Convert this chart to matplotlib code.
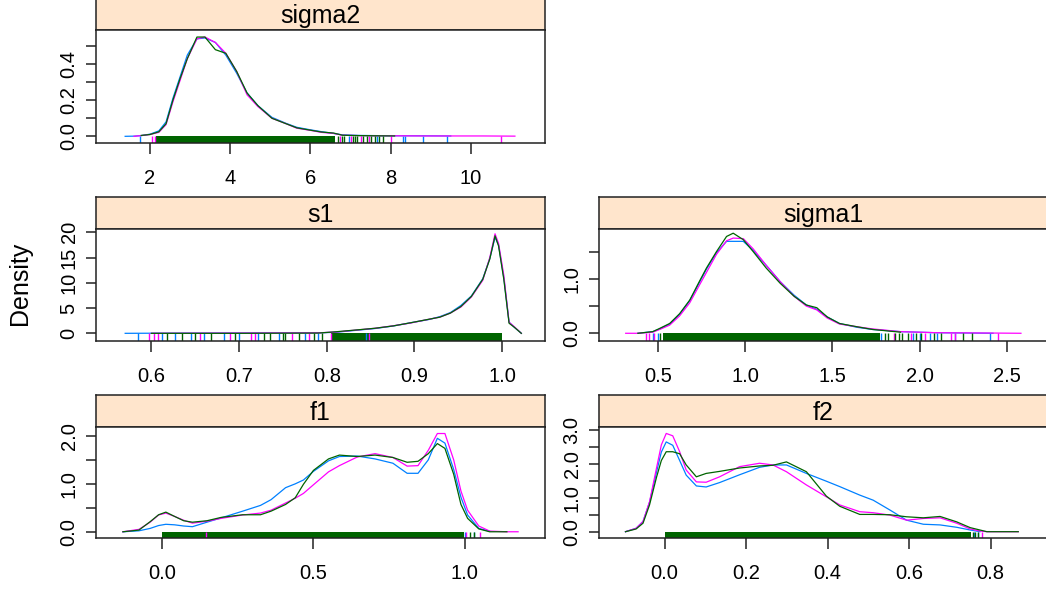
import numpy as np
import matplotlib
matplotlib.use("Agg")
import matplotlib.pyplot as plt

plt.rcParams['font.family'] = ['Liberation Sans', 'DejaVu Sans']

nan = np.nan
BLUE = "#0080ff"
MAGENTA = "#ff00ff"
GREEN = "#006400"
STRIP = "#ffe5cc"

# ---- density curves (three chains per parameter) ----
sigma2_x = [1.38, 1.6, 1.78, 2.0, 2.22, 2.4, 2.57, 2.75, 2.93, 3.17, 3.37, 3.63, 3.89, 4.16,
            4.42, 4.69, 5.04, 5.39, 5.66, 6.0, 6.27, 6.58, 6.8, 7.2, 7.6, 8.1, 8.8, 9.5, 10.3, 11.1]
sigma2_blue = [0.0, 0.001, 0.004, 0.012, 0.03, 0.08, 0.21, 0.33, 0.45, 0.54, 0.545, 0.52, 0.45, 0.35,
               0.24, 0.17, 0.105, 0.072, 0.05, 0.036, 0.026, 0.016, 0.008, 0.005, 0.004, 0.003, 0.003, 0.002, nan, nan]
sigma2_magenta = [nan, 0.0, 0.004, 0.01, 0.022, 0.065, 0.19, 0.31, 0.43, 0.54, 0.55, 0.52, 0.46, 0.36,
                  0.23, 0.165, 0.10, 0.07, 0.045, 0.033, 0.022, 0.016, 0.006, 0.004, 0.003, 0.003, 0.002, 0.002, 0.002, 0.001]
sigma2_green = [nan, nan, 0.005, 0.01, 0.025, 0.07, 0.2, 0.32, 0.43, 0.55, 0.55, 0.48, 0.46, 0.36,
                0.24, 0.17, 0.10, 0.07, 0.047, 0.034, 0.024, 0.018, 0.006, 0.004, 0.003, 0.002, nan, nan, nan, nan]

s1_x = [0.57, 0.6, 0.7, 0.79, 0.81, 0.834, 0.855, 0.876, 0.896, 0.917, 0.929, 0.941, 0.953,
        0.965, 0.978, 0.986, 0.992, 0.996, 1.002, 1.008, 1.014, 1.022]
s1_blue = [0.0, 0.02, 0.05, 0.1, 0.2, 0.6, 0.95, 1.45, 2.1, 2.75, 3.3, 4.1, 5.5,
           7.4, 10.8, 14.8, 19.0, 17.5, 11.0, 2.2, 1.2, 0.0]
s1_magenta = [nan, 0.0, 0.05, 0.1, 0.25, 0.65, 1.0, 1.5, 2.05, 2.8, 3.2, 4.0, 5.2,
              7.2, 10.5, 15.0, 19.7, 17.8, 11.5, 2.2, 1.3, 0.0]
s1_green = [nan, 0.0, 0.0, 0.05, 0.3, 0.67, 1.0, 1.47, 2.1, 2.8, 3.2, 4.0, 5.3,
            7.3, 10.7, 14.7, 19.3, 17.3, 10.7, 2.0, 1.2, 0.0]

sigma1_x = [0.315, 0.385, 0.47, 0.51, 0.567, 0.624, 0.682, 0.74, 0.778, 0.835, 0.893, 0.931, 0.989,
            1.046, 1.12, 1.2, 1.28, 1.35, 1.41, 1.47, 1.54, 1.64, 1.73, 1.89, 2.1, 2.42, 2.58]
sigma1_blue = [nan, 0.0, 0.03, 0.08, 0.17, 0.35, 0.6, 0.95, 1.18, 1.48, 1.69, 1.69, 1.69,
               1.52, 1.25, 0.95, 0.70, 0.52, 0.44, 0.3, 0.18, 0.11, 0.07, 0.03, 0.01, 0.0, nan]
sigma1_magenta = [0.0, 0.0, 0.02, 0.07, 0.15, 0.32, 0.56, 0.9, 1.12, 1.45, 1.7, 1.75, 1.74,
                  1.55, 1.25, 0.95, 0.68, 0.5, 0.43, 0.28, 0.17, 0.12, 0.08, 0.03, 0.01, 0.004, 0.0]
sigma1_green = [nan, 0.0, 0.03, 0.09, 0.18, 0.36, 0.61, 0.97, 1.2, 1.5, 1.78, 1.84, 1.72,
                1.5, 1.2, 0.92, 0.68, 0.52, 0.47, 0.3, 0.18, 0.12, 0.07, 0.02, nan, nan, nan]

f1_x = [-0.13, -0.077, -0.04, -0.012, 0.012, 0.041, 0.071, 0.1, 0.148, 0.195, 0.266, 0.325, 0.36,
        0.408, 0.44, 0.467, 0.5, 0.55, 0.586, 0.645, 0.704, 0.763, 0.81, 0.846, 0.88, 0.91, 0.935,
        0.964, 0.988, 1.01, 1.047, 1.083, 1.14, 1.177]
f1_blue = [0.0, 0.02, 0.07, 0.13, 0.156, 0.145, 0.12, 0.106, 0.2, 0.29, 0.43, 0.55, 0.67,
           0.92, 1.0, 1.08, 1.26, 1.48, 1.57, 1.58, 1.52, 1.43, 1.22, 1.22, 1.5, 1.95, 1.85,
           1.3, 0.72, 0.35, 0.07, 0.01, nan, nan]
f1_magenta = [0.0, 0.05, 0.2, 0.35, 0.39, 0.32, 0.24, 0.18, 0.22, 0.28, 0.35, 0.39, 0.45,
              0.6, 0.7, 0.8, 0.98, 1.25, 1.38, 1.56, 1.63, 1.55, 1.37, 1.38, 1.7, 2.05, 2.05,
              1.5, 0.85, 0.45, 0.12, 0.014, 0.0, 0.0]
f1_green = [0.0, 0.035, 0.21, 0.355, 0.41, 0.32, 0.23, 0.2, 0.23, 0.3, 0.355, 0.355, 0.43,
            0.57, 0.71, 0.99, 1.28, 1.52, 1.6, 1.57, 1.6, 1.55, 1.45, 1.47, 1.63, 1.84, 1.74,
            1.2, 0.57, 0.28, 0.06, 0.0, 0.0, nan]

f2_x = [-0.096, -0.07, -0.053, -0.037, -0.02, -0.008, 0.004, 0.02, 0.037, 0.053, 0.078, 0.102,
        0.135, 0.184, 0.233, 0.266, 0.299, 0.348, 0.397, 0.43, 0.479, 0.512, 0.553, 0.594,
        0.635, 0.676, 0.717, 0.75, 0.774, 0.791, 0.868]
f2_blue = [0.0, 0.1, 0.3, 0.87, 1.75, 2.35, 2.65, 2.55, 2.1, 1.67, 1.35, 1.32,
           1.45, 1.68, 1.9, 1.97, 1.97, 1.72, 1.49, 1.33, 1.08, 0.93, 0.64, 0.34,
           0.22, 0.2, 0.13, 0.05, 0.0, nan, nan]
f2_magenta = [0.0, 0.1, 0.3, 0.88, 1.87, 2.56, 2.9, 2.83, 2.36, 1.82, 1.47, 1.46,
              1.62, 1.92, 2.02, 1.97, 1.77, 1.38, 1.03, 0.79, 0.59, 0.56, 0.49, 0.34,
              0.39, 0.41, 0.25, 0.08, 0.02, 0.0, 0.0]
f2_green = [0.0, 0.08, 0.25, 0.79, 1.6, 2.1, 2.36, 2.36, 2.3, 1.97, 1.62, 1.72,
            1.78, 1.88, 1.94, 1.96, 2.06, 1.77, 1.05, 0.75, 0.51, 0.51, 0.5, 0.44,
            0.41, 0.45, 0.29, 0.12, 0.05, 0.0, 0.0]

# ---- rug marks: sparse ticks per chain, plus the solid green span ----
sigma2_rug_blue = [1.75, 6.95, 7.65, 8.3, 8.35, 8.8, 9.4]
sigma2_rug_magenta = [2.05, 2.12, 6.75, 7.0, 7.25, 7.45, 8.0, 10.75]
sigma2_rug_green = [6.7, 6.8, 6.85, 7.05, 7.1, 7.15, 7.3, 7.4, 7.5, 7.6, 7.7, 7.8]
sigma2_span = [2.15, 6.62]

s1_rug_blue = [0.585, 0.612, 0.627, 0.645, 0.66, 0.683, 0.70, 0.722, 0.745, 0.775, 0.79, 0.845]
s1_rug_magenta = [0.597, 0.603, 0.607, 0.655, 0.69, 0.713, 0.718, 0.76, 0.78, 0.805, 0.848]
s1_rug_green = [0.618, 0.635, 0.65, 0.668, 0.695, 0.728, 0.735, 0.75, 0.752, 0.768, 0.785, 0.795]
s1_span = [0.805, 1.0]

sigma1_rug_blue = [0.47, 0.50, 1.78, 1.96, 2.0, 2.06, 2.1, 2.2, 2.4]
sigma1_rug_magenta = [0.43, 0.45, 0.48, 1.85, 1.95, 2.03, 2.18, 2.2, 2.45]
sigma1_rug_green = [0.51, 1.8, 1.82, 1.86, 1.88, 1.9, 1.93, 1.98, 2.01, 2.08, 2.12, 2.25, 2.3]
sigma1_span = [0.53, 1.77]

f1_rug_blue = [1.0, 1.03]
f1_rug_magenta = [0.145, 1.005, 1.05]
f1_rug_green = [1.018, 1.03]
f1_span = [0.0, 0.998]

f2_rug_blue = [0.76, 0.768]
f2_rug_magenta = [0.778]
f2_rug_green = [0.757, 0.763, 0.77]
f2_span = [0.0, 0.752]

# ---- axes: ticks and labels ----
sigma2_xticks = [2, 4, 6, 8, 10]
sigma2_xlabels = ['2', '4', '6', '8', '10']
sigma2_yticks = [0.0, 0.1, 0.2, 0.3, 0.4, 0.5]
sigma2_ylabels = ['0.0', '', '0.2', '', '0.4', '']
s1_xticks = [0.6, 0.7, 0.8, 0.9, 1.0]
s1_xlabels = ['0.6', '0.7', '0.8', '0.9', '1.0']
s1_yticks = [0, 5, 10, 15, 20]
s1_ylabels = ['0', '5', '10', '15', '20']
sigma1_xticks = [0.5, 1.0, 1.5, 2.0, 2.5]
sigma1_xlabels = ['0.5', '1.0', '1.5', '2.0', '2.5']
sigma1_yticks = [0.0, 0.5, 1.0, 1.5]
sigma1_ylabels = ['0.0', '', '1.0', '']
f1_xticks = [0.0, 0.5, 1.0]
f1_xlabels = ['0.0', '0.5', '1.0']
f1_yticks = [0.0, 0.5, 1.0, 1.5, 2.0]
f1_ylabels = ['0.0', '', '1.0', '', '2.0']
f2_xticks = [0.0, 0.2, 0.4, 0.6, 0.8]
f2_xlabels = ['0.0', '0.2', '0.4', '0.6', '0.8']
f2_yticks = [0.0, 0.5, 1.0, 1.5, 2.0, 2.5, 3.0]
f2_ylabels = ['0.0', '', '1.0', '', '2.0', '', '3.0']

W, H = 1046, 591
fig = plt.figure(figsize=(W / 100, H / 100), dpi=100)
FRAME = "#222222"


def px_axes(left, top, right, bottom):
    return fig.add_axes([left / W, 1 - bottom / H, (right - left) / W, (bottom - top) / H])


def panel(name, box, strip_top, xlim, ylim, x, curves, rugs, span, xticks, xlabels, yticks, ylabels):
    left, top, right, bottom = box
    st = px_axes(left, strip_top, right, top)
    st.set_facecolor(STRIP)
    st.set_xticks([])
    st.set_yticks([])
    for s in st.spines.values():
        s.set_linewidth(1.1)
        s.set_color(FRAME)
    st.text(0.5, 0.45, name, ha='center', va='center', fontsize=18, transform=st.transAxes)

    ax = px_axes(left, top, right, bottom)
    ax.set_xlim(xlim)
    ax.set_ylim(ylim)
    cols = [BLUE, MAGENTA, GREEN]
    for i, (c, y, r) in enumerate(zip(cols, curves, rugs)):
        ax.vlines(r, ylim[0], 0, color=c, lw=1.0)
        if i == 2:
            ax.fill_between(span, ylim[0], 0, color=c, lw=0)
        ax.plot(x, np.array(y, dtype=float), color=c, lw=0.9)
    ax.set_xticks(xticks)
    ax.set_xticklabels(xlabels)
    ax.set_yticks(yticks)
    ax.set_yticklabels(ylabels, rotation=90, va='center')
    ax.tick_params(axis='x', length=8, width=1.1, pad=11, labelsize=14.5, color=FRAME)
    ax.tick_params(axis='y', length=7.5, width=1.1, pad=5, labelsize=14.5, color=FRAME)
    for s in ax.spines.values():
        s.set_linewidth(1.1)
        s.set_color(FRAME)
    return ax


panel('sigma2', (96, 30, 545, 143), -2, (0.653, 11.85), (-0.037, 0.589), sigma2_x,
      [sigma2_blue, sigma2_magenta, sigma2_green],
      [sigma2_rug_blue, sigma2_rug_magenta, sigma2_rug_green], sigma2_span,
      sigma2_xticks, sigma2_xlabels, sigma2_yticks, sigma2_ylabels)
panel('s1', (96, 229, 545, 341), 197, (0.5367, 1.049), (-1.52, 20.65), s1_x,
      [s1_blue, s1_magenta, s1_green],
      [s1_rug_blue, s1_rug_magenta, s1_rug_green], s1_span,
      s1_xticks, s1_xlabels, s1_yticks, s1_ylabels)
panel('sigma1', (599, 229, 1048, 341), 197, (0.162, 2.735), (-0.142, 1.917), sigma1_x,
      [sigma1_blue, sigma1_magenta, sigma1_green],
      [sigma1_rug_blue, sigma1_rug_magenta, sigma1_rug_green], sigma1_span,
      sigma1_xticks, sigma1_xlabels, sigma1_yticks, sigma1_ylabels)
panel('f1', (96, 427, 545, 538), 395, (-0.219, 1.266), (-0.13, 2.186), f1_x,
      [f1_blue, f1_magenta, f1_green],
      [f1_rug_blue, f1_rug_magenta, f1_rug_green], f1_span,
      f1_xticks, f1_xlabels, f1_yticks, f1_ylabels)
panel('f2', (599, 427, 1048, 538), 395, (-0.161, 0.941), (-0.186, 3.09), f2_x,
      [f2_blue, f2_magenta, f2_green],
      [f2_rug_blue, f2_rug_magenta, f2_rug_green], f2_span,
      f2_xticks, f2_xlabels, f2_yticks, f2_ylabels)

fig.text(20 / W, 1 - 283 / H, 'Density', rotation=90, ha='center', va='center', fontsize=18)

fig.savefig('out.png', dpi=100)
